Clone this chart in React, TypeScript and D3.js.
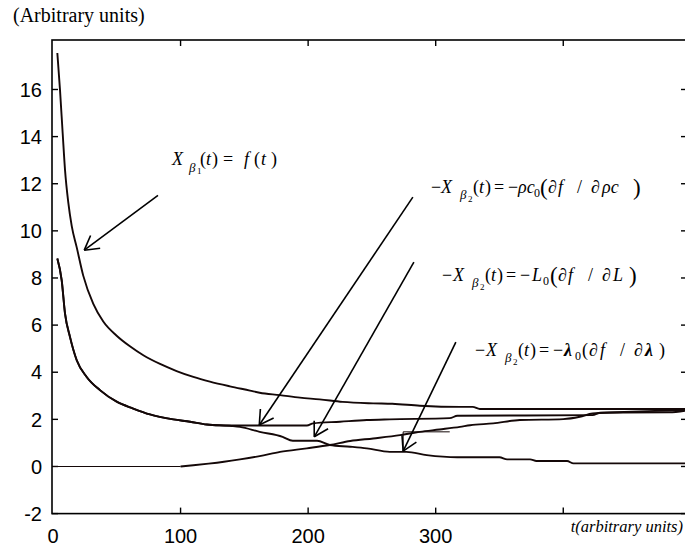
import React from 'react';
import * as d3 from 'd3';

const W = 685;
const H = 548;

// axes
const X_DOMAIN = [0, 497];
const Y_DOMAIN = [-2, 18.1];
const X_TICKS = [100, 200, 300, 400];
const X_TICK_LABELS = [
  { t: 0, label: '0' },
  { t: 100, label: '100' },
  { t: 200, label: '200' },
  { t: 300, label: '300' },
];
const Y_TICKS = [-2, 0, 2, 4, 6, 8, 10, 12, 14, 16];

// series: X_beta1 = f(t)
const T_F = [3.4, 5.5, 7.6, 9.4, 12, 14.7, 18.6, 23.7, 31.6, 39.4, 49.9, 60.3, 70.8, 83.9, 96.9, 110, 123, 138.7, 154.4, 162, 177.9, 193.6, 209, 227, 251, 266, 287.6, 319, 329, 334.6, 497];
const V_F = [17.55, 15.97, 14.13, 12.6, 11.2, 10.2, 9.3, 8.1, 6.9, 6.15, 5.55, 5.1, 4.72, 4.35, 4.05, 3.8, 3.6, 3.4, 3.22, 3.13, 3.03, 2.92, 2.85, 2.74, 2.68, 2.66, 2.58, 2.53, 2.53, 2.44, 2.44];

// -rho c0 (df/d rho c)
const T_RHO = [3.4, 6.8, 9.4, 13.3, 18.6, 26.4, 36.8, 49.9, 62.9, 76, 94.3, 107.4, 120.5, 135, 199, 204, 225, 246, 264, 311, 317, 423, 429, 483, 497];
const V_RHO = [8.83, 7.91, 6.5, 5.5, 4.51, 3.8, 3.24, 2.75, 2.46, 2.21, 2.0, 1.9, 1.78, 1.74, 1.74, 1.83, 1.9, 1.97, 2.0, 2.05, 2.15, 2.18, 2.28, 2.3, 2.38];

// -L0 (df/dL)
const T_L = [3.4, 6.8, 9.4, 13.3, 18.6, 26.4, 36.8, 49.9, 62.9, 76, 94.3, 107.4, 120.5, 140, 146.6, 162, 180, 188, 207, 217, 233, 246, 264, 277, 293, 317, 350, 356, 374, 379, 403, 408, 497];
const V_L = [8.83, 7.91, 6.5, 5.5, 4.51, 3.8, 3.24, 2.75, 2.46, 2.21, 2.0, 1.9, 1.78, 1.72, 1.68, 1.47, 1.26, 1.09, 1.09, 0.91, 0.84, 0.77, 0.62, 0.62, 0.48, 0.39, 0.39, 0.3, 0.3, 0.23, 0.23, 0.13, 0.13];

// -lambda0 (df/dlambda)
const T_LAM = [0, 100, 110, 122, 134, 146.6, 162, 178, 199, 217, 233, 251, 272, 287.6, 303, 319, 327, 345, 366, 400, 413, 423, 442, 489, 497];
const V_LAM = [0, 0, 0.05, 0.12, 0.2, 0.3, 0.44, 0.62, 0.77, 0.91, 1.08, 1.19, 1.33, 1.47, 1.57, 1.68, 1.75, 1.83, 1.97, 2.01, 2.11, 2.25, 2.3, 2.39, 2.4];

// annotation arrows (data coordinates): start -> tip
const ARROW_START_T = [82.3, 282.1, 282.9, 315.8];
const ARROW_START_V = [11.51, 11.43, 8.67, 5.28];
const ARROW_TIP_T = [24.5, 161.7, 204.8, 274.5];
const ARROW_TIP_V = [9.18, 1.76, 1.26, 0.65];

// thin guide near the lambda arrow
const GUIDE_T = [274.5, 274.5, 311];
const GUIDE_V = [0.65, 1.47, 1.47];

const zip = (a: number[], b: number[]) => a.map((t, i) => [t, b[i]] as [number, number]);

const SERIF = 'Liberation Serif, Times New Roman, Times, serif';
const SANS = 'Liberation Sans, Arial, Helvetica, sans-serif';
const INK = '#140808';
const FS = 18;

export default function App() {
  const x = d3.scaleLinear().domain(X_DOMAIN).range([53, 687]);
  const y = d3.scaleLinear().domain(Y_DOMAIN).range([513.6, 40]);
  const smooth = d3
    .line<[number, number]>()
    .x((d) => x(d[0]))
    .y((d) => y(d[1]))
    .curve(d3.curveMonotoneX);
  const straight = d3
    .line<[number, number]>()
    .x((d) => x(d[0]))
    .y((d) => y(d[1]));

  const lam = zip(T_LAM, V_LAM);
  const lamFlat = lam.filter((d) => d[0] <= 100);
  const lamRise = lam.filter((d) => d[0] >= 100);

  const left = x(0) - 1;
  const right = x(X_DOMAIN[1]);
  const top = y(Y_DOMAIN[1]);
  const bottom = y(Y_DOMAIN[0]);

  const arrows = ARROW_START_T.map((_, i) => {
    const x1 = x(ARROW_START_T[i]);
    const y1 = y(ARROW_START_V[i]);
    const x2 = x(ARROW_TIP_T[i]);
    const y2 = y(ARROW_TIP_V[i]);
    const ang = Math.atan2(y1 - y2, x1 - x2);
    const len = 16;
    const spread = (30 * Math.PI) / 180;
    const b1 = [x2 + len * Math.cos(ang - spread), y2 + len * Math.sin(ang - spread)];
    const b2 = [x2 + len * Math.cos(ang + spread), y2 + len * Math.sin(ang + spread)];
    return { x1, y1, x2, y2, b1, b2 };
  });

  const it = { fontStyle: 'italic' as const };

  return (
    <svg
      width={W}
      height={H}
      style={{ position: 'absolute', left: 0, top: 0, background: '#fff' }}
    >
      <rect x={0} y={0} width={W} height={H} fill="#fff" />
      {/* title */}
      <text x={13} y={22} fontFamily={SERIF} fontSize={20} fill="#000">
        (Arbitrary units)
      </text>

      {/* frame */}
      <rect x={left} y={top} width={right - left} height={bottom - top} fill="none" stroke="#000" strokeWidth={1.6} />

      {/* y ticks (left & right, inward) */}
      {Y_TICKS.map((v) => (
        <g key={'y' + v}>
          <line x1={left} x2={left + 6} y1={y(v)} y2={y(v)} stroke="#000" strokeWidth={1.4} />
          <line x1={right} x2={right - 6} y1={y(v)} y2={y(v)} stroke="#000" strokeWidth={1.4} />
          <text x={42} y={y(v)} dy="0.36em" textAnchor="end" fontFamily={SANS} fontSize={20} fill="#000">
            {v}
          </text>
        </g>
      ))}

      {/* x ticks (top & bottom, inward) */}
      {X_TICKS.map((t) => (
        <g key={'x' + t}>
          <line x1={x(t)} x2={x(t)} y1={bottom} y2={bottom - 6} stroke="#000" strokeWidth={1.4} />
          <line x1={x(t)} x2={x(t)} y1={top} y2={top + 6} stroke="#000" strokeWidth={1.4} />
        </g>
      ))}
      {X_TICK_LABELS.map((d) => (
        <text key={'xl' + d.t} x={x(d.t)} y={543} textAnchor="middle" fontFamily={SANS} fontSize={20} fill="#000">
          {d.label}
        </text>
      ))}
      <text x={683} y={532} textAnchor="end" fontFamily={SERIF} fontStyle="italic" fontSize={16.5} fill="#000">
        t(arbitrary units)
      </text>

      {/* curves */}
      <path d={smooth(zip(T_F, V_F)) || ''} fill="none" stroke={INK} strokeWidth={1.9} />
      <path d={smooth(zip(T_RHO, V_RHO)) || ''} fill="none" stroke={INK} strokeWidth={1.9} />
      <path d={smooth(zip(T_L, V_L)) || ''} fill="none" stroke={INK} strokeWidth={1.9} />
      <path d={straight(lamFlat) || ''} fill="none" stroke={INK} strokeWidth={1.1} />
      <path d={smooth(lamRise) || ''} fill="none" stroke={INK} strokeWidth={1.9} />
      <path d={straight(zip(GUIDE_T, GUIDE_V)) || ''} fill="none" stroke={INK} strokeWidth={1} />

      {/* arrows */}
      {arrows.map((a, i) => (
        <g key={'a' + i} stroke="#000" strokeWidth={1.6} fill="none">
          <line x1={a.x1} y1={a.y1} x2={a.x2} y2={a.y2} />
          <line x1={a.x2} y1={a.y2} x2={a.b1[0]} y2={a.b1[1]} />
          <line x1={a.x2} y1={a.y2} x2={a.b2[0]} y2={a.b2[1]} />
        </g>
      ))}

      {/* label 1 */}
      <text fontFamily={SERIF} fontSize={FS} fill="#000">
        <tspan x={172} y={165} {...it}>X</tspan>
        <tspan x={189} y={172} fontSize={13} {...it}>β</tspan>
        <tspan x={197} y={174} fontSize={9}>1</tspan>
        <tspan x={200} y={165}>(</tspan>
        <tspan x={206} y={165} {...it}>t</tspan>
        <tspan x={212} y={165}>)</tspan>
        <tspan x={223} y={165}>=</tspan>
        <tspan x={244} y={165} {...it}>f</tspan>
        <tspan x={254} y={165}>(</tspan>
        <tspan x={261} y={165} {...it}>t</tspan>
        <tspan x={271} y={165}>)</tspan>
      </text>

      {/* label 2 */}
      <text fontFamily={SERIF} fontSize={FS} fill="#000">
        <tspan x={431} y={193}>−</tspan>
        <tspan x={441} y={193} {...it}>X</tspan>
        <tspan x={460} y={199} fontSize={13} {...it}>β</tspan>
        <tspan x={468} y={202} fontSize={9}>2</tspan>
        <tspan x={473} y={193}>(</tspan>
        <tspan x={479} y={193} {...it}>t</tspan>
        <tspan x={485} y={193}>)</tspan>
        <tspan x={494} y={193}>=</tspan>
        <tspan x={508} y={193}>−</tspan>
        <tspan x={518} y={193} {...it}>ρc</tspan>
        <tspan x={534} y={197} fontSize={12}>0</tspan>
        <tspan x={540} y={195} fontSize={23}>(</tspan>
        <tspan x={548} y={193}>∂</tspan>
        <tspan x={558} y={193} {...it}>f</tspan>
        <tspan x={577} y={193}>/</tspan>
        <tspan x={591} y={193}>∂</tspan>
        <tspan x={602} y={193} {...it}>ρc</tspan>
        <tspan x={633} y={195} fontSize={23}>)</tspan>
      </text>

      {/* label 3 */}
      <text fontFamily={SERIF} fontSize={FS} fill="#000">
        <tspan x={442} y={281}>−</tspan>
        <tspan x={453} y={281} {...it}>X</tspan>
        <tspan x={472} y={287} fontSize={13} {...it}>β</tspan>
        <tspan x={480} y={290} fontSize={9}>2</tspan>
        <tspan x={485} y={281}>(</tspan>
        <tspan x={491} y={281} {...it}>t</tspan>
        <tspan x={497} y={281}>)</tspan>
        <tspan x={506} y={281}>=</tspan>
        <tspan x={520} y={281}>−</tspan>
        <tspan x={532} y={281} {...it}>L</tspan>
        <tspan x={543} y={285} fontSize={12}>0</tspan>
        <tspan x={550} y={283} fontSize={23}>(</tspan>
        <tspan x={558} y={281}>∂</tspan>
        <tspan x={568} y={281} {...it}>f</tspan>
        <tspan x={588} y={281}>/</tspan>
        <tspan x={602} y={281}>∂</tspan>
        <tspan x={613} y={281} {...it}>L</tspan>
        <tspan x={629} y={283} fontSize={23}>)</tspan>
      </text>

      {/* label 4 */}
      <text fontFamily={SERIF} fontSize={FS} fill="#000">
        <tspan x={475} y={356}>−</tspan>
        <tspan x={486} y={356} {...it}>X</tspan>
        <tspan x={505} y={362} fontSize={13} {...it}>β</tspan>
        <tspan x={513} y={365} fontSize={9}>2</tspan>
        <tspan x={518} y={356}>(</tspan>
        <tspan x={524} y={356} {...it}>t</tspan>
        <tspan x={530} y={356}>)</tspan>
        <tspan x={539} y={356}>=</tspan>
        <tspan x={553} y={356}>−</tspan>
        <tspan x={564} y={356} fontWeight="bold" {...it}>λ</tspan>
        <tspan x={575} y={360} fontSize={12}>0</tspan>
        <tspan x={582} y={356}>(</tspan>
        <tspan x={589} y={356}>∂</tspan>
        <tspan x={600} y={356} {...it}>f</tspan>
        <tspan x={620} y={356}>/</tspan>
        <tspan x={634} y={356}>∂</tspan>
        <tspan x={645} y={356} fontWeight="bold" {...it}>λ</tspan>
        <tspan x={659} y={356}>)</tspan>
      </text>
    </svg>
  );
}
